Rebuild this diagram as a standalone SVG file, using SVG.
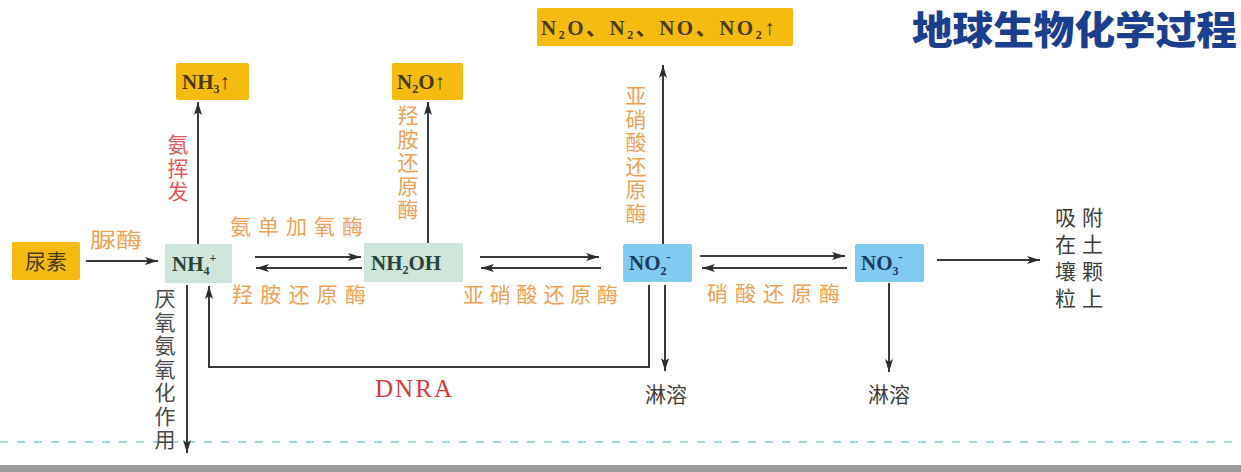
<svg xmlns="http://www.w3.org/2000/svg" width="1241" height="472" viewBox="0 0 1241 472">
<defs>
<marker id="ah" markerUnits="userSpaceOnUse" markerWidth="14" markerHeight="9" refX="13" refY="4" orient="auto">
<path d="M0,0 L13,4 L0,8 L3,4 z" fill="#2e2e2e"/>
</marker>
<style>
.conn{stroke:#3a3a3a;stroke-width:2;fill:none}
.arr{marker-end:url(#ah)}
.box-y{fill:#f6bb10}
.box-g{fill:#cfe5da}
.box-b{fill:#80cbef}
.chem{font-family:"Liberation Serif","Noto Sans CJK SC",serif;font-size:21px;font-weight:bold}
.ty{fill:#4a3c10}
.tg{fill:#27443a}
.tb{fill:#1d3c5c}
.cn{font-family:"Noto Sans CJK SC",sans-serif;font-size:21px}
.vt{writing-mode:vertical-rl;letter-spacing:2.5px}
.or{fill:#f0a257}
.rd{fill:#e25a5a}
.gy{fill:#3c3c3c}
.sub{font-size:12px}
</style>
</defs>
<rect width="1241" height="472" fill="#ffffff"/>
<line x1="0" y1="442" x2="1241" y2="442" stroke="#8ccbdc" stroke-width="1.5" stroke-dasharray="8 9"/>

<text x="1237" y="44" text-anchor="end" font-family="'Noto Sans CJK SC',sans-serif" font-weight="900" font-size="39" fill="#1b3f8c" textLength="325" lengthAdjust="spacingAndGlyphs">地球生物化学过程</text>

<g id="connectors">
<line class="conn arr" x1="86" y1="261" x2="158" y2="261"/>
<line class="conn arr" x1="198" y1="244" x2="198" y2="102"/>
<line class="conn arr" x1="255" y1="257" x2="361" y2="257"/>
<line class="conn arr" x1="362" y1="268" x2="256" y2="268"/>
<line class="conn arr" x1="428" y1="243" x2="428" y2="102"/>
<line class="conn arr" x1="480" y1="257" x2="599" y2="257"/>
<line class="conn arr" x1="601" y1="268" x2="481" y2="268"/>
<line class="conn arr" x1="663" y1="244" x2="663" y2="65"/>
<line class="conn arr" x1="700" y1="256" x2="845" y2="256"/>
<line class="conn arr" x1="847" y1="268" x2="702" y2="268"/>
<line class="conn arr" x1="937" y1="260" x2="1040" y2="260"/>
<line class="conn arr" x1="889" y1="283" x2="889" y2="372"/>
<line class="conn arr" x1="665" y1="285" x2="665" y2="371"/>
<polyline class="conn arr" points="649,285 649,367 209,367 209,286"/>
<line class="conn arr" x1="187" y1="285" x2="187" y2="453"/>
</g>

<g id="labels">
<text class="cn or" x="90" y="247" textLength="52" lengthAdjust="spacingAndGlyphs">脲酶</text>
<text class="cn or" x="230" y="234" textLength="133" lengthAdjust="spacing">氨单加氧酶</text>
<text class="cn or" x="232" y="302" textLength="134" lengthAdjust="spacing">羟胺还原酶</text>
<text class="cn or" x="463" y="302" textLength="155" lengthAdjust="spacing">亚硝酸还原酶</text>
<text class="cn or" x="707" y="301" textLength="133" lengthAdjust="spacing">硝酸还原酶</text>
<text class="cn vt rd" x="178" y="134">氨挥发</text>
<text class="cn vt or" x="408" y="105">羟胺还原酶</text>
<text class="cn vt or" x="636" y="85">亚硝酸还原酶</text>
<text class="cn vt" x="165" y="288" fill="#4a4a4a">厌氧氨氧化作用</text>
<text x="375" y="397" font-family="'Liberation Serif',serif" font-size="25" fill="#d63a3a" textLength="77" lengthAdjust="spacing">DNRA</text>
<text x="184" y="484" font-family="'Liberation Serif',serif" font-size="22" font-weight="bold" fill="#333" text-anchor="middle">N</text>
</g>

<g id="urea">
<rect class="box-y" x="12" y="242" width="68" height="38" rx="2"/>
<text class="cn ty" x="46" y="269" text-anchor="middle" font-size="22">尿素</text>
</g>
<g id="nh4">
<rect class="box-g" x="165" y="244" width="67" height="39"/>
<text class="chem tg" x="172" y="271">NH<tspan class="sub" dy="4">4</tspan><tspan class="sub" dy="-13">+</tspan></text>
</g>
<g id="nh2oh">
<rect class="box-g" x="364" y="243" width="99" height="39"/>
<text class="chem tg" x="371" y="270">NH<tspan class="sub" dy="4">2</tspan><tspan dy="-4">OH</tspan></text>
</g>
<g id="no2">
<rect class="box-b" x="623" y="244" width="69" height="38" rx="2"/>
<text class="chem tb" x="629" y="270" font-weight="normal">NO<tspan class="sub" dy="5">2</tspan><tspan class="sub" dy="-14">-</tspan></text>
</g>
<g id="no3">
<rect class="box-b" x="855" y="244" width="69" height="38" rx="2"/>
<text class="chem tb" x="861" y="270" font-weight="normal">NO<tspan class="sub" dy="5">3</tspan><tspan class="sub" dy="-14">-</tspan></text>
</g>
<g id="nh3">
<rect class="box-y" x="176" y="63" width="73" height="37" rx="2"/>
<text class="chem ty" x="182" y="89">NH<tspan class="sub" dy="4">3</tspan><tspan dy="-4">↑</tspan></text>
</g>
<g id="n2o">
<rect class="box-y" x="392" y="63" width="71" height="37" rx="2"/>
<text class="chem ty" x="397" y="89">N<tspan class="sub" dy="4">2</tspan><tspan dy="-4">O↑</tspan></text>
</g>
<g id="gases">
<rect class="box-y" x="537" y="8" width="256" height="38" rx="2"/>
<text class="chem ty" x="541" y="35" letter-spacing="2.5">N<tspan class="sub" dy="4">2</tspan><tspan dy="-4">O、N</tspan><tspan class="sub" dy="4">2</tspan><tspan dy="-4">、NO、NO</tspan><tspan class="sub" dy="4">2</tspan><tspan dy="-4">↑</tspan></text>
</g>
<g id="adsorb">
<text class="cn gy" font-size="22" letter-spacing="6"><tspan x="1055" y="225">吸附</tspan><tspan x="1055" y="252">在土</tspan><tspan x="1055" y="279">壤颗</tspan><tspan x="1055" y="306">粒上</tspan></text>
</g>
<g id="leach1">
<text class="cn gy" x="666" y="402" text-anchor="middle" font-size="22">淋溶</text>
</g>
<g id="leach2">
<text class="cn gy" x="889" y="402" text-anchor="middle" font-size="22">淋溶</text>
</g>
<rect x="0" y="465" width="1241" height="7" fill="#9b9b9b"/>
</svg>
